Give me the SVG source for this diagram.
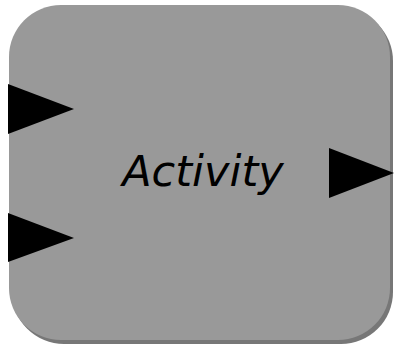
<svg xmlns="http://www.w3.org/2000/svg" width="394" height="346" viewBox="0 0 394 346">
<style>
.shadow{fill:#777777}
.body{fill:#999999}
.port{fill:#000000}
.label{font-family:"DejaVu Sans",Verdana,sans-serif;font-style:italic;font-size:43px;fill:#000000}
</style>
<rect width="394" height="346" fill="#ffffff"/>
<g id="activity">
<rect class="shadow" x="12" y="9" width="381" height="335" rx="52" ry="52"/>
<rect class="body" x="9" y="5" width="381" height="335" rx="52" ry="52"/>
<text class="label" x="203" y="186" text-anchor="middle">Activity</text>
</g>
<g id="port-in-1"><polygon class="port" points="8,84 74,109 8,134"/></g>
<g id="port-in-2"><polygon class="port" points="8,213 74,238 8,262"/></g>
<g id="port-out"><polygon class="port" points="329,148 394,173 329,198"/></g>
<g id="connectors"></g>
</svg>
